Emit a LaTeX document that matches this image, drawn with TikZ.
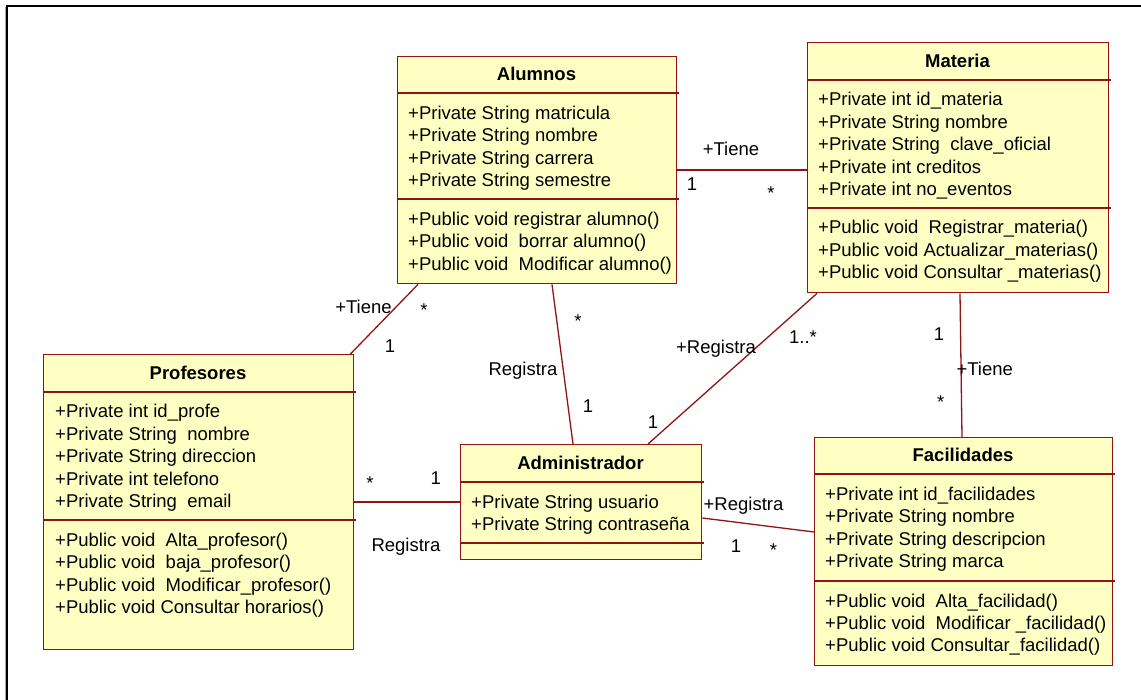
\documentclass[tikz,border=0pt]{standalone}
\usepackage{fontspec}
\setmainfont{Liberation Sans}
\definecolor{umlred}{RGB}{145,20,20}
\definecolor{umlyellow}{RGB}{255,255,196}
\tikzset{
  classbox/.style={draw=umlred, fill=umlyellow, line width=1.4pt, inner sep=0pt, rectangle},
  sepline/.style={draw=umlred, line width=1.4pt},
  assoc/.style={draw=umlred, line width=1.3pt},
  rowtext/.style={anchor=base west, inner sep=0pt, font=\fontsize{18.5pt}{22pt}\selectfont},
  titletext/.style={anchor=base, inner sep=0pt, font=\fontsize{18.5pt}{22pt}\selectfont\bfseries},
  lbl/.style={anchor=base, inner sep=0pt, font=\fontsize{18.5pt}{22pt}\selectfont},
}
% #1 name, #2 left, #3 top, #4 right, #5 bottom, #6 sep1, #7 sep2, #8 title
\newcommand\umlbox[8]{%
  \node[classbox, anchor=north west, minimum width={(#4-#2)*1pt}, minimum height={(#5-#3)*1pt}] (#1) at (#2,#3) {};
  \draw[sepline] (#2,#6) -- ({#4+3},#6);
  \draw[sepline] (#2,#7) -- ({#4+3},#7);
  \node[titletext] (#1-title) at ({(#2+#4)/2},{#6-12}) {#8};
}
% #1 prefix, #2 x, #3 first baseline, #4 list
\newcommand\umlrows[4]{%
  \foreach \t [count=\i] in {#4} {\node[rowtext] (#1\i) at (#2,{#3+(\i-1)*22.4}) {\t};}
}
\begin{document}
\begin{tikzpicture}[x=1pt,y=-1pt]
\useasboundingbox (0,0) rectangle (1141,700);
\fill[white] (0,0) rectangle (1141,700);
% frame
\draw[gray!70, line width=1pt] (5.5,7) -- (5.5,705);
\draw[black, line width=2pt] (7,6) rectangle (1150,710);

% classes
\umlbox{alu}{397}{56}{676}{283}{93}{199}{Alumnos}
\umlrows{alua}{408}{119.5}{+Private String matricula,+Private String nombre,+Private String carrera,+Private String semestre}
\umlrows{alum}{408}{225.5}{+Public void registrar alumno(),+Public void\ \ borrar alumno(),+Public void\ \ Modificar alumno()}

\umlbox{mat}{807}{42}{1108}{292}{80}{208}{Materia}
\umlrows{mata}{818}{106}{+Private int id\_materia,+Private String nombre,+Private String\ \ clave\_oficial,+Private int creditos,+Private int no\_eventos}
\umlrows{matm}{818}{234}{+Public void\ \ Registrar\_materia(),+Public void Actualizar\_materias(),+Public void Consultar \_materias()}

\umlbox{pro}{43}{354}{353}{649}{392}{520}{Profesores}
\umlrows{proa}{55}{418}{+Private int id\_profe,+Private String\ \ nombre,+Private String direccion,+Private int telefono,+Private String\ \ email}
\umlrows{prom}{55}{546.5}{+Public void\ \ Alta\_profesor(),+Public void\ \ baja\_profesor(),+Public void\ \ Modificar\_profesor(),+Public void Consultar horarios()}

\umlbox{adm}{460}{444}{701}{559}{482}{543}{Administrador}
\umlrows{adma}{471}{508.3}{+Private String usuario,+Private String contraseña}

\umlbox{fac}{814}{437}{1112}{665}{474}{581}{Facilidades}
\umlrows{faca}{825}{500.5}{+Private int id\_facilidades,+Private String nombre,+Private String descripcion,+Private String marca}
\umlrows{facm}{825}{607}{+Public void\ \ Alta\_facilidad(),+Public void\ \ Modificar \_facilidad(),+Public void Consultar\_facilidad()}

% connectors
\draw[assoc] ([yshift=-114pt]alu.north east) -- ([yshift=-128pt]mat.north west);
\draw[assoc] ([xshift=21pt]alu.south west) -- ([xshift=-4pt]pro.north east);
\draw[assoc] ([xshift=155pt]alu.south west) -- ([xshift=113pt]adm.north west);
\draw[assoc] ([xshift=10pt]mat.south west) -- ([xshift=188pt]adm.north west);
\draw[assoc] ([xshift=153pt]mat.south west) -- ([xshift=148pt]fac.north west);
\draw[assoc] ([yshift=-148pt]pro.north east) -- ([yshift=-58pt]adm.north west);
\draw[assoc] ([yshift=-74pt]adm.north east) -- ([yshift=-95pt]fac.north west);

% labels
\node[lbl] (l1) at (731,156) {+Tiene};
\node[lbl] (l2) at (692,191) {1};
\node[lbl] (l3) at (771,200) {*};
\node[lbl] (l4) at (363.5,314) {+Tiene};
\node[lbl] (l5) at (424,316.5) {*};
\node[lbl] (l6) at (390,352.3) {1};
\node[lbl] (l7) at (578,328) {*};
\node[lbl] (l8) at (523,376) {Registra};
\node[lbl] (l9) at (588,412.7) {1};
\node[lbl] (l10) at (716,354) {+Registra};
\node[lbl] (l11) at (803,343.3) {1..*};
\node[lbl] (l12) at (653,428.3) {1};
\node[lbl] (l13) at (939,340.7) {1};
\node[lbl] (l14) at (984.7,376) {+Tiene};
\node[lbl] (l15) at (940.7,408.8) {*};
\node[lbl] (l16) at (370,489.5) {*};
\node[lbl] (l17) at (435.7,485) {1};
\node[lbl] (l18) at (406,551.7) {Registra};
\node[lbl] (l19) at (743.5,510.7) {+Registra};
\node[lbl] (l20) at (736,552.7) {1};
\node[lbl] (l21) at (773.5,556.5) {*};
\end{tikzpicture}
\end{document}
